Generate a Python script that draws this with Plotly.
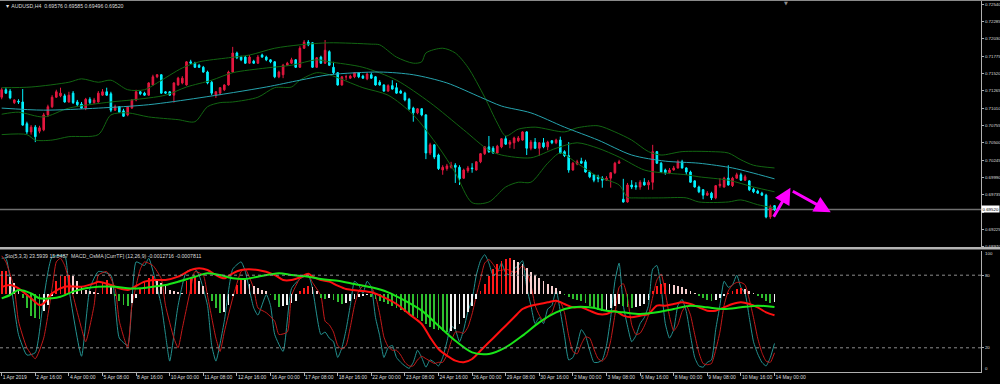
import plotly.graph_objects as go

# ---------------- data (AUDUSD H4, bar index 0 = 1 Apr 2019) ----------------
open_ = [0.7117,0.7128,0.7126,0.7109,0.7111,0.7110,0.7078,0.7066,0.7073,0.7067,
         0.7069,0.7091,0.7103,0.7117,0.7119,0.7119,0.7110,0.7123,0.7110,0.7107,
         0.7101,0.7114,0.7109,0.7110,0.7120,0.7125,0.7122,0.7098,0.7103,0.7097,
         0.7091,0.7101,0.7113,0.7125,0.7123,0.7120,0.7135,0.7147,0.7150,0.7125,
         0.7125,0.7120,0.7135,0.7138,0.7135,0.7169,0.7167,0.7164,0.7161,0.7154,
         0.7139,0.7120,0.7123,0.7128,0.7135,0.7154,0.7182,0.7176,0.7176,0.7167,
         0.7170,0.7167,0.7179,0.7176,0.7172,0.7169,0.7147,0.7150,0.7164,0.7167,
         0.7172,0.7161,0.7189,0.7198,0.7197,0.7161,0.7176,0.7167,0.7184,0.7161,
         0.7153,0.7135,0.7147,0.7145,0.7147,0.7153,0.7148,0.7144,0.7150,0.7147,
         0.7139,0.7135,0.7126,0.7134,0.7131,0.7126,0.7123,0.7114,0.7101,0.7094,
         0.7100,0.7091,0.7035,0.7047,0.7032,0.7010,0.7012,0.7014,0.7017,0.7014,
         0.6998,0.7009,0.7013,0.7010,0.7022,0.7034,0.7044,0.7042,0.7035,0.7044,
         0.7056,0.7048,0.7050,0.7053,0.7054,0.7066,0.7042,0.7051,0.7042,0.7050,
         0.7044,0.7053,0.7050,0.7054,0.7037,0.7031,0.7010,0.7019,0.7023,0.7022,
         0.7007,0.7003,0.7000,0.6998,0.6995,0.6998,0.7006,0.7020,0.6967,0.6963,
         0.6988,0.6987,0.6985,0.6992,0.6988,0.6992,0.7037,0.7020,0.7010,0.7006,
         0.7010,0.7013,0.7022,0.7013,0.7007,0.6994,0.6985,0.6981,0.6973,0.6976,
         0.6969,0.6987,0.6985,0.6998,0.6987,0.6998,0.7003,0.6995,0.6994,0.6982,
         0.6979,0.6976,0.6973,0.6941,0.69576]
high = [0.7131,0.7132,0.7129,0.7114,0.7114,0.7129,0.7081,0.7076,0.7076,0.7075,
        0.7094,0.7106,0.7120,0.7128,0.7131,0.7122,0.7125,0.7126,0.7113,0.7110,
        0.7116,0.7117,0.7116,0.7126,0.7129,0.7131,0.7125,0.7106,0.7104,0.7100,
        0.7104,0.7114,0.7128,0.7126,0.7125,0.7139,0.7150,0.7151,0.7151,0.7126,
        0.7126,0.7139,0.7147,0.7148,0.7170,0.7172,0.7169,0.7166,0.7163,0.7156,
        0.7141,0.7126,0.7132,0.7136,0.7156,0.7191,0.7184,0.7178,0.7178,0.7179,
        0.7172,0.7179,0.7181,0.7178,0.7173,0.7170,0.7156,0.7166,0.7169,0.7175,
        0.7173,0.7192,0.7201,0.7201,0.7198,0.7176,0.7178,0.7201,0.7186,0.7169,
        0.7154,0.7148,0.7150,0.7150,0.7154,0.7154,0.7150,0.7153,0.7153,0.7148,
        0.7142,0.7136,0.7136,0.7142,0.7138,0.7128,0.7125,0.7116,0.7103,0.7101,
        0.7101,0.7092,0.7050,0.7048,0.7034,0.7017,0.7019,0.7022,0.7020,0.7017,
        0.7012,0.7016,0.7020,0.7023,0.7035,0.7045,0.7060,0.7045,0.7047,0.7057,
        0.7060,0.7054,0.7059,0.7060,0.7067,0.7067,0.7054,0.7057,0.7051,0.7057,
        0.7053,0.7054,0.7056,0.7059,0.7039,0.7051,0.7022,0.7025,0.7028,0.7025,
        0.7009,0.7004,0.7003,0.7001,0.7001,0.7007,0.7022,0.7025,0.6997,0.6991,
        0.6995,0.6992,0.6995,0.6998,0.6995,0.7047,0.7038,0.7022,0.7012,0.7013,
        0.7016,0.7025,0.7025,0.7014,0.7009,0.6995,0.6987,0.6982,0.6979,0.6978,
        0.6988,0.6998,0.7000,0.7017,0.7000,0.7006,0.7006,0.7003,0.6995,0.6984,
        0.6981,0.6978,0.6975,0.6959,0.69585]
low = [0.7114,0.7122,0.7114,0.7107,0.7107,0.7075,0.7063,0.7062,0.7051,0.7064,
       0.7067,0.7088,0.7101,0.7116,0.7117,0.7109,0.7109,0.7107,0.7104,0.7100,
       0.7098,0.7107,0.7107,0.7109,0.7119,0.7119,0.7095,0.7097,0.7094,0.7088,
       0.7089,0.7100,0.7111,0.7120,0.7119,0.7119,0.7134,0.7145,0.7122,0.7122,
       0.7119,0.7109,0.7134,0.7136,0.7134,0.7166,0.7160,0.7160,0.7153,0.7136,
       0.7120,0.7116,0.7120,0.7126,0.7134,0.7153,0.7173,0.7170,0.7166,0.7166,
       0.7166,0.7166,0.7175,0.7170,0.7167,0.7145,0.7145,0.7145,0.7163,0.7166,
       0.7160,0.7160,0.7188,0.7192,0.7160,0.7160,0.7166,0.7166,0.7163,0.7151,
       0.7134,0.7134,0.7142,0.7144,0.7145,0.7145,0.7144,0.7142,0.7144,0.7134,
       0.7134,0.7125,0.7125,0.7128,0.7122,0.7122,0.7111,0.7098,0.7081,0.7092,
       0.7089,0.7026,0.7032,0.7026,0.7010,0.7003,0.7009,0.7012,0.6991,0.6988,
       0.6997,0.7006,0.7006,0.7009,0.7020,0.7032,0.7035,0.7034,0.7034,0.7042,
       0.7047,0.7042,0.7041,0.7051,0.7053,0.7032,0.7039,0.7041,0.7031,0.7042,
       0.7039,0.7048,0.7048,0.7034,0.7029,0.7006,0.7009,0.7017,0.7019,0.7006,
       0.6998,0.6992,0.6992,0.6984,0.6994,0.6984,0.7004,0.7019,0.6962,0.6962,
       0.6982,0.6981,0.6981,0.6987,0.6981,0.6981,0.7019,0.7006,0.7003,0.7004,
       0.7009,0.7012,0.7012,0.7003,0.6991,0.6984,0.6976,0.6967,0.6972,0.6966,
       0.6967,0.6984,0.6984,0.6987,0.6985,0.6997,0.6994,0.6994,0.6979,0.6976,
       0.6975,0.6972,0.6939,0.6938,0.69496]
close = [0.7128,0.7123,0.7116,0.7113,0.7110,0.7076,0.7066,0.7073,0.7059,0.7072,
         0.7091,0.7103,0.7117,0.7125,0.7123,0.7110,0.7120,0.7109,0.7106,0.7101,
         0.7114,0.7109,0.7113,0.7123,0.7125,0.7120,0.7098,0.7103,0.7095,0.7089,
         0.7103,0.7113,0.7125,0.7122,0.7120,0.7138,0.7147,0.7150,0.7123,0.7123,
         0.7120,0.7138,0.7145,0.7145,0.7169,0.7167,0.7161,0.7161,0.7154,0.7138,
         0.7123,0.7125,0.7131,0.7135,0.7154,0.7182,0.7175,0.7172,0.7167,0.7176,
         0.7167,0.7176,0.7176,0.7172,0.7169,0.7147,0.7154,0.7164,0.7167,0.7172,
         0.7161,0.7189,0.7198,0.7194,0.7161,0.7175,0.7167,0.7186,0.7164,0.7153,
         0.7135,0.7147,0.7147,0.7148,0.7153,0.7147,0.7145,0.7151,0.7145,0.7135,
         0.7135,0.7126,0.7134,0.7129,0.7123,0.7123,0.7113,0.7100,0.7094,0.7100,
         0.7091,0.7035,0.7047,0.7029,0.7012,0.7014,0.7016,0.7017,0.7014,0.6997,
         0.7010,0.7013,0.7012,0.7022,0.7034,0.7044,0.7037,0.7035,0.7045,0.7056,
         0.7048,0.7051,0.7057,0.7057,0.7066,0.7042,0.7051,0.7042,0.7050,0.7044,
         0.7051,0.7050,0.7054,0.7035,0.7031,0.7010,0.7020,0.7022,0.7020,0.7007,
         0.7000,0.6995,0.6997,0.6995,0.6998,0.7006,0.7020,0.7022,0.6963,0.6988,
         0.6985,0.6985,0.6992,0.6988,0.6992,0.7037,0.7020,0.7007,0.7006,0.7010,
         0.7013,0.7022,0.7013,0.7007,0.6992,0.6985,0.6978,0.6973,0.6976,0.6969,
         0.6987,0.6989,0.6998,0.6988,0.6998,0.7003,0.6995,0.7000,0.6981,0.6978,
         0.6976,0.6973,0.6941,0.6956,0.69520]

# slow moving average (teal)
ma_bar = [0,10,23,35,47,63,71,78,90,98,106,114,119,126,134,142,150,158,166,174,178,184]
ma_val = [0.7101,0.7098,0.7101,0.7106,0.7116,0.7132,0.7142,0.7150,0.7154,0.7150,0.7138,
          0.7117,0.7104,0.7094,0.7073,0.7054,0.7032,0.7023,0.7020,0.7013,0.7007,0.6997]

# Bollinger bands (dark green)
bb_up_bar = [0,7,16,19,23,26,30,34,37,43,47,54,59,65,71,78,88,90,94,98,100,101,105,108,111,
             115,118,120,123,127,134,137,142,146,150,154,157,162,169,173,176,179,184]
bb_up = [0.7131,0.7132,0.7139,0.7144,0.7139,0.7142,0.7128,0.7128,0.7138,0.7160,0.7169,0.7175,
         0.7179,0.7189,0.7194,0.7197,0.7195,0.7194,0.7176,0.7167,0.7169,0.7182,0.7189,0.7182,
         0.7161,0.7117,0.7079,0.7060,0.7070,0.7073,0.7066,0.7072,0.7075,0.7066,0.7054,0.7037,
         0.7032,0.7037,0.7037,0.7035,0.7025,0.7017,0.7013]
bb_mid_bar = [0,4,10,16,26,31,39,44,50,55,63,69,75,78,86,94,102,110,116,119,126,132,137,142,
              147,153,157,163,166,173,179,184]
bb_mid = [0.7092,0.7095,0.7088,0.7101,0.7110,0.7113,0.7120,0.7132,0.7142,0.7153,0.7160,0.7164,
          0.7172,0.7169,0.7161,0.7142,0.7109,0.7069,0.7039,0.7032,0.7028,0.7042,0.7050,0.7042,
          0.7029,0.7010,0.7006,0.7003,0.7000,0.6995,0.6985,0.6978]
bb_lo_bar = [0,6,8,12,16,23,26,30,35,42,46,49,52,55,61,65,69,71,75,78,86,92,98,104,108,112,
             116,120,123,126,130,133,137,142,147,149,151,157,163,166,173,176,180,184]
bb_lo = [0.7062,0.7062,0.7054,0.7054,0.7059,0.7062,0.7091,0.7094,0.7088,0.7084,0.7081,0.7103,
         0.7109,0.7110,0.7117,0.7131,0.7132,0.7142,0.7153,0.7150,0.7131,0.7120,0.7091,0.7044,
         0.7006,0.6962,0.6963,0.6985,0.6992,0.6992,0.7020,0.7035,0.7020,0.7000,0.6988,0.6970,
         0.6969,0.6969,0.6969,0.6963,0.6963,0.6966,0.6959,0.6954]

# Stochastic (5,3,3)
sto_main_bar = [0,1,4,6,8,10,12,15,16,19,21,23,26,28,30,32,34,35,38,39,40,42,44,46,47,49,50,
                51,53,55,57,58,60,61,63,64,65,67,69,71,73,74,76,77,78] + list(range(79, 185))
sto_main = [94,94,31,14,16,61,95,96,69,13,69,83,80,28,22,91,88,94,55,31,9,55,83,85,80,55,22,
            9,42,85,91,83,53,47,64,55,31,17,69,77,80,69,31,33,28,
            25,12,20,35,55,75,72,65,75,70,45,30,12,20,22,12,8,5,3,8,
            18,12,4,10,8,5,12,25,38,35,25,35,50,60,80,92,97,90,80,82,
            90,82,80,85,88,92,70,55,40,45,40,52,55,68,50,30,10,12,22,35,
            30,18,8,8,10,22,45,75,90,55,38,25,30,40,45,55,85,88,70,40,
            28,35,55,60,50,30,12,5,4,8,10,35,55,75,70,72,80,70,65,45,
            25,15,8,5,12,23.59]
sto_sig_bar = [0,1,3,4,6,8,10,12,13,14,15,17,19,20,22,23,25,27,28,30,31,33,34,36,38,39,41,42,
               43,45,46,48,49,51,52,53,55,57,58,60,61,63,65,66,68,69,71,73,74,76,77,78] + list(range(79, 185))
sto_sig = [96,91,69,42,20,11,28,69,91,94,88,63,36,25,55,80,83,69,42,20,55,85,91,88,77,55,28,
           20,36,69,83,80,63,28,17,33,61,83,85,69,53,49,42,31,33,63,77,80,74,63,42,39,
           33,22,19,22,37,55,67,71,71,70,63,48,29,21,18,18,14,8,5,5,
           10,13,11,9,7,8,8,14,25,33,33,32,37,48,63,77,90,93,89,84,
           84,85,84,82,84,88,83,72,55,47,42,46,49,58,58,49,30,17,15,23,
           29,28,19,11,9,13,26,47,70,73,61,39,31,32,38,47,62,76,81,66,
           46,34,39,50,55,47,31,16,7,6,7,18,33,55,67,72,74,74,72,60,
           45,28,16,9,8,15.85]

# MACD_OsMA (12,26,9): main, signal and histogram
macd_bar = [0,2,4,7,9,10,12,15,19,22,23,26,28,30,31,34,36,39,42,45,47,49,51,53,55,57,61,65,67,
            69,71,73,74,76,78,80,82,85,88,91,94,97,100,102,104,106,108,110,112,114,116,118,120,
            122,124,126,128,130,132,134,136,138,140,142,144,146,148,150,152,154,156,158,160,162,
            164,166,168,170,172,174,176,178,180,182,184]
macd_main = [0.00042,0.00054,0.00034,-0.00026,-0.00066,-0.00056,0.00004,0.00044,0.00044,0.00064,
             0.00074,0.00054,0.00034,0.00024,0.00034,0.00074,0.00084,0.00084,0.00104,0.00144,
             0.00154,0.00144,0.00114,0.00094,0.00124,0.00144,0.00144,0.00114,0.00084,0.00084,
             0.00100,0.00122,0.00104,0.00084,0.00074,
             0.0005,0.0003,0.0002,0.0001,-0.0002,-0.0006,-0.0012,-0.0018,-0.0026,-0.0033,
             -0.0037,-0.0040,-0.0041,-0.0039,-0.0034,-0.0029,-0.0024,-0.0019,-0.0014,-0.0009,
             -0.0007,-0.0006,-0.0005,-0.0004,-0.0006,-0.0008,-0.0008,-0.0010,-0.0012,-0.0012,
             -0.0010,-0.0013,-0.0014,-0.0013,-0.0012,-0.0007,-0.0007,-0.0006,-0.0005,-0.0006,
             -0.0008,-0.0010,-0.0010,-0.0008,-0.0006,-0.0005,-0.0006,-0.0008,-0.0011,-0.0012716]
macd_sig_bar = [0,2,4,7,9,12,14,17,20,23,27,30,33,36,39,42,46,49,52,55,58,61,66,69,73,76,78,
                80,84,88,92,96,100,104,108,112,116,120,124,128,132,136,140,144,148,152,156,160,
                164,168,172,176,180,184]
macd_sig = [-0.00026,-0.00006,0.00024,0.00004,-0.00026,-0.00026,-0.00016,0.00014,0.00034,0.00044,
            0.00044,0.00034,0.00034,0.00044,0.00054,0.00074,0.00104,0.00124,0.00114,0.00094,
            0.00090,0.00104,0.00124,0.00114,0.00104,0.00090,0.00084,
            0.0008,0.0006,0.0004,0.0001,-0.0004,-0.0010,-0.0019,-0.0028,-0.0035,-0.0036,
            -0.0032,-0.0025,-0.0017,-0.0011,-0.0008,-0.0008,-0.0010,-0.0011,-0.0012,-0.0011,
            -0.0009,-0.0007,-0.0008,-0.0009,-0.0008,-0.0007,-0.0007811]
osma = [0.00136,0.00136,0.00102,0.00066,0.00018,-0.00024,-0.00084,-0.00132,-0.00144,-0.00150,
        -0.00102,-0.00066,-0.00012,0.00078,0.00108,0.00111,0.00114,0.00108,0.00078,0.00048,
        0.00024,0.00018,0.00015,0.00006,0.00066,0.00084,0.00048,-0.00012,-0.00042,-0.00066,
        -0.00072,-0.00054,-0.00024,0.00036,0.00078,0.00096,0.00108,0.00084,0.00066,0.00048,
        0.00024,0.00018,0.00012,0.00006,0.00078,0.00096,0.00102,0.00078,0.00048,0.00006,
        -0.00042,-0.00084,-0.00114,-0.00108,-0.00066,-0.00012,0.00054,0.00096,0.00084,0.00060,
        0.00048,0.00036,0.00024,0.00018,-0.00006,-0.00036,-0.00078,-0.00072,-0.00066,-0.00054,
        -0.00042,0.00018,0.00036,0.00048,0.00042,0.00018,-0.00024,-0.00030,-0.00024,-0.00036,
        -0.00048,-0.00060,-0.00054,-0.00042,-0.00030,-0.00018,-0.00012,-0.00006,-0.00018,-0.00030,
        -0.00042,-0.00048,-0.00060,-0.00072,-0.00084,-0.00096,-0.00108,-0.00120,-0.00132,-0.00144,
        -0.00162,-0.00180,-0.00198,-0.00210,-0.00216,-0.00222,-0.00228,-0.00222,-0.00210,-0.00180,
        -0.00144,-0.00108,-0.00072,-0.00030,0.00018,0.00060,0.00108,0.00150,0.00180,0.00198,
        0.00210,0.00216,0.00204,0.00192,0.00180,0.00156,0.00132,0.00114,0.00096,0.00078,
        0.00060,0.00048,0.00036,0.00018,-0.00006,-0.00018,-0.00030,-0.00036,-0.00042,-0.00054,
        -0.00072,-0.00084,-0.00096,-0.00102,-0.00096,-0.00084,-0.00072,-0.00060,-0.00072,-0.00078,
        -0.00084,-0.00078,-0.00072,-0.00060,-0.00036,0.00018,0.00048,0.00060,0.00066,0.00060,
        0.00054,0.00048,0.00042,0.00030,0.00018,0.00006,-0.00012,-0.00024,-0.00036,-0.00042,
        -0.00036,-0.00024,-0.00012,0.00006,0.00018,0.00030,0.00036,0.00030,0.00018,0.00006,
        -0.00012,-0.00024,-0.00042,-0.00054,-0.00048]

# forecast arrows (bar index, price): tail -> head
arrow1_x = [183.6, 187.8]
arrow1_y = [0.6939, 0.6984]
arrow2_x = [188.0, 197.4]
arrow2_y = [0.6980, 0.6948]

# axis labels
label_bars = [0, 8, 16, 24, 32, 40, 48, 56, 64, 72, 80, 88, 96, 104, 112, 120, 128, 136, 144,
              152, 160, 168, 176, 184]
label_text = ["1 Apr 2019", "2 Apr 16:00", "4 Apr 00:00", "5 Apr 08:00", "8 Apr 16:00",
              "10 Apr 00:00", "11 Apr 08:00", "12 Apr 16:00", "16 Apr 00:00", "17 Apr 08:00",
              "18 Apr 16:00", "22 Apr 00:00", "23 Apr 08:00", "24 Apr 16:00", "26 Apr 00:00",
              "29 Apr 08:00", "30 Apr 16:00", "2 May 00:00", "3 May 08:00", "6 May 16:00",
              "8 May 00:00", "9 May 08:00", "10 May 16:00", "14 May 00:00"]
price_ticks = [0.72540, 0.72285, 0.72030, 0.71775, 0.71520, 0.71265, 0.71010, 0.70755,
               0.70500, 0.70245, 0.69990, 0.69735, 0.69480, 0.69225, 0.68970]
last_price = 0.69520
title_text = "▼ AUDUSD,H4  0.69576 0.69585 0.69496 0.69520"
sub_title = "Sto(5,3,3) 23.5939 15.8487  MACD_OsMA [CurrTF] (12,26,9) -0.0012716 -0.0007811"

# ---------------- styling ----------------
FONT = "Liberation Sans"
TXT = "#dedede"
AXC = "#b0b0b0"
BULL = "#e4173f"
BEAR = "#00f2ff"
W, H = 1000, 384
MT, MB, MR = 1, 12, 19
plot_h = H - MT - MB
FS = 5.2     # text size
FSY = 4.4    # right-axis label size (fits the 19 px strip)


def fy(py):
    return (H - MB - py) / plot_h


bars = list(range(len(close)))

fig = go.Figure()

fig.add_trace(go.Candlestick(
    x=bars, open=open_, high=high, low=low, close=close,
    increasing=dict(line=dict(color=BULL, width=1), fillcolor=BULL),
    decreasing=dict(line=dict(color=BEAR, width=1), fillcolor=BEAR),
    whiskerwidth=0, xaxis="x", yaxis="y", showlegend=False, hoverinfo="skip"))

for bx, by in [(bb_up_bar, bb_up), (bb_mid_bar, bb_mid), (bb_lo_bar, bb_lo)]:
    fig.add_trace(go.Scatter(x=bx, y=by, mode="lines", xaxis="x", yaxis="y",
                             line=dict(color="#126612", width=1, shape="spline", smoothing=0.8),
                             showlegend=False, hoverinfo="skip"))
fig.add_trace(go.Scatter(x=ma_bar, y=ma_val, mode="lines", xaxis="x", yaxis="y",
                         line=dict(color="#26a4ae", width=1, shape="spline", smoothing=0.8),
                         showlegend=False, hoverinfo="skip"))

# sub window: stochastic
fig.add_trace(go.Scatter(x=sto_main_bar, y=sto_main, mode="lines", xaxis="x2", yaxis="y2",
                         line=dict(color="#23918f", width=1, shape="spline", smoothing=0.5),
                         showlegend=False, hoverinfo="skip"))
fig.add_trace(go.Scatter(x=sto_sig_bar, y=sto_sig, mode="lines", xaxis="x2", yaxis="y2",
                         line=dict(color="#c41a1a", width=1, shape="spline", smoothing=0.5),
                         showlegend=False, hoverinfo="skip"))

# OsMA histogram colours by direction
hist_colors = []
prev = 0.0
for v in osma:
    if v >= 0:
        hist_colors.append("#ff1a1a" if v >= prev else "#f6cfcf")
    else:
        hist_colors.append("#2fbf2f" if v <= prev else "#f2f2f2")
    prev = v

fig.add_trace(go.Bar(x=bars, y=osma, marker=dict(color=hist_colors, line=dict(width=0)),
                     width=0.45, xaxis="x2", yaxis="y3", showlegend=False, hoverinfo="skip"))
fig.add_trace(go.Scatter(x=macd_bar, y=macd_main, mode="lines", xaxis="x2", yaxis="y3",
                         line=dict(color="#ff1010", width=2, shape="spline", smoothing=0.8),
                         showlegend=False, hoverinfo="skip"))
fig.add_trace(go.Scatter(x=macd_sig_bar, y=macd_sig, mode="lines", xaxis="x2", yaxis="y3",
                         line=dict(color="#19e619", width=2, shape="spline", smoothing=0.8),
                         showlegend=False, hoverinfo="skip"))

x_range = [-0.405, (981 - 1.7) / 4.2]
main_range = [0.72599 - 0.000147 * 248, 0.72599 - 0.000147 * 1]
macd_range = [-0.00468, 0.00258]

shapes = [
    # current price line
    dict(type="line", xref="paper", x0=0, x1=1, yref="y", y0=last_price, y1=last_price,
         line=dict(color="#707070", width=1.5), layer="below"),
    # stochastic levels
    dict(type="line", xref="paper", x0=0, x1=1, yref="y2", y0=80, y1=80,
         line=dict(color="#8c8c8c", width=1, dash="dot")),
    dict(type="line", xref="paper", x0=0, x1=1, yref="y2", y0=20, y1=20,
         line=dict(color="#8c8c8c", width=1, dash="dot")),
    # window separator
    dict(type="rect", xref="paper", x0=0, x1=W / 981.0, yref="paper", y0=fy(249.5), y1=fy(247),
         fillcolor="#b4b4b4", line=dict(width=0), layer="above"),
    # top border
    dict(type="rect", xref="paper", x0=0, x1=W / 981.0, yref="paper", y0=fy(1), y1=fy(0),
         fillcolor="#8a8a8a", line=dict(width=0), layer="above"),
]

annotations = [
    dict(text=title_text, xref="paper", yref="paper", x=0.003, y=fy(5.5), xanchor="left",
         yanchor="middle", showarrow=False, font=dict(family=FONT, size=FS, color=TXT)),
    dict(text=sub_title, xref="paper", yref="paper", x=0.003, y=fy(255.5), xanchor="left",
         yanchor="middle", showarrow=False, font=dict(family=FONT, size=FS, color=TXT)),
    dict(text="0.69520", xref="paper", yref="y", x=1.0, y=last_price, xanchor="left",
         yanchor="middle", showarrow=False, bgcolor="#ffffff", borderpad=0.5,
         font=dict(family=FONT, size=FSY, color="#000000")),
    dict(text="100", xref="paper", yref="paper", x=1.0, y=fy(253.5), xanchor="left",
         xshift=2, yanchor="middle", showarrow=False, font=dict(family=FONT, size=FSY, color=TXT)),
    dict(text="0", xref="paper", yref="paper", x=1.0, y=fy(368), xanchor="left",
         xshift=2, yanchor="middle", showarrow=False, font=dict(family=FONT, size=FSY, color=TXT)),
    dict(text="▼", xref="paper", yref="paper", x=786 / 981.0, y=fy(3), xanchor="center",
         yanchor="middle", showarrow=False, font=dict(family="DejaVu Sans", size=5, color="#8a8a8a")),
]
for ax_, ay_ in [(arrow1_x, arrow1_y), (arrow2_x, arrow2_y)]:
    annotations.append(dict(
        x=ax_[1], y=ay_[1], ax=ax_[0], ay=ay_[0], xref="x", yref="y", axref="x", ayref="y",
        text="", showarrow=True, arrowhead=2, arrowsize=1.1, arrowwidth=3, arrowcolor="#ff00ff"))

# the tick hidden behind the price box keeps its mark but no text
price_ticktext = ["" if abs(v - 0.69480) < 1e-9 else f"{v:.5f}" for v in price_ticks]

fig.update_layout(
    width=W, height=H,
    margin=dict(l=0, r=MR, t=MT, b=MB, pad=0, autoexpand=False),
    paper_bgcolor="#000000", plot_bgcolor="#000000",
    showlegend=False, hovermode=False, dragmode=False,
    boxgap=0.45, bargap=0,
    font=dict(family=FONT, size=FS, color=TXT),
    xaxis=dict(domain=[0, 1], range=x_range, anchor="y", showgrid=False, zeroline=False,
               showticklabels=False, ticks="", showline=False, automargin=False,
               rangeslider=dict(visible=False), fixedrange=True),
    xaxis2=dict(domain=[0, 1], range=x_range, anchor="y2", matches="x", showgrid=False,
                zeroline=False, tickmode="array", tickvals=label_bars, ticktext=label_text,
                tickangle=0, automargin=False,
                ticks="outside", ticklen=3, tickwidth=1, tickcolor=AXC,
                ticklabelposition="outside right",
                tickfont=dict(family=FONT, size=5.0, color=TXT),
                showline=True, linecolor=AXC, linewidth=1, fixedrange=True),
    yaxis=dict(domain=[fy(248), 1.0], range=main_range, side="right", anchor="x",
               showgrid=False, zeroline=False, tickmode="array", tickvals=price_ticks,
               ticktext=price_ticktext, ticks="outside", ticklen=2, automargin=False,
               tickcolor=AXC, tickfont=dict(family=FONT, size=FSY, color=TXT),
               showline=True, linecolor=AXC, linewidth=1, fixedrange=True),
    yaxis2=dict(domain=[0, fy(251)], range=[0, 100], side="right", anchor="x2",
                showgrid=False, zeroline=False, tickmode="array", tickvals=[20, 80],
                ticktext=["20", "80"], ticks="outside", ticklen=2, tickcolor=AXC,
                automargin=False, tickfont=dict(family=FONT, size=FSY, color=TXT),
                showline=True, linecolor=AXC, linewidth=1, fixedrange=True),
    yaxis3=dict(overlaying="y2", range=macd_range, visible=False, anchor="x2",
                showgrid=False, zeroline=False, fixedrange=True),
    shapes=shapes,
    annotations=annotations,
)

fig.write_html("out.html", config={"displayModeBar": False, "staticPlot": True},
               post_script="document.body.style.margin='0';document.body.style.overflow='hidden';")
